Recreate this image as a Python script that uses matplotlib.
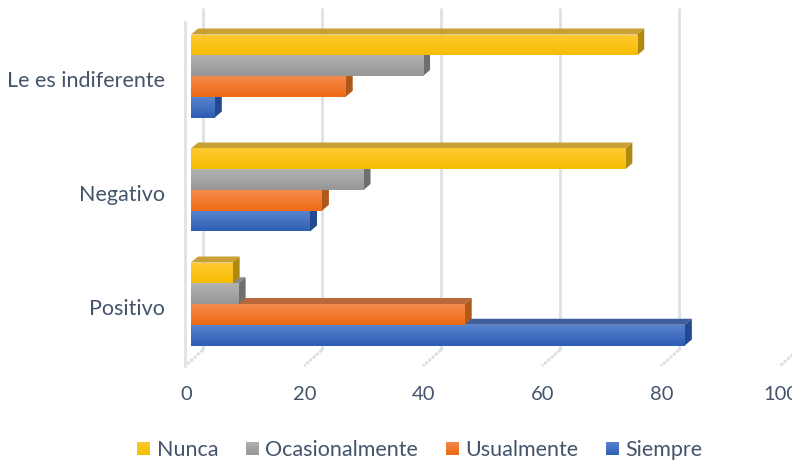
import numpy as np
import matplotlib
matplotlib.use("Agg")
import matplotlib.pyplot as plt
from matplotlib.patches import Patch
from matplotlib.colors import LinearSegmentedColormap

categories = ["Positivo", "Negativo", "Le es indiferente"]
series_names = ["Siempre", "Usualmente", "Ocasionalmente", "Nunca"]
siempre = [83, 20, 4]
usualmente = [46, 22, 26]
ocasionalmente = [8, 29, 39]
nunca = [7, 73, 75]
x_ticks = [0, 20, 40, 60, 80, 100]

series_values = [siempre, usualmente, ocasionalmente, nunca]
light = ["#5B84CF", "#F58A4B", "#B2B2B2", "#FFC933"]
dark = ["#2F5FB5", "#EE6A15", "#979797", "#F5BE00"]
top_c = ["#3F5F9C", "#B8683A", "#8A8A8A", "#C9A033"]
side_c = ["#234A8E", "#B0581A", "#6F6F6F", "#B08A10"]
text_c = "#44546A"

W, H = 792, 462
PX_X = 5.95
PX_Y = 114.0
BAR_H = 20.75 / PX_Y
DX = 7 / PX_X
DY = 6 / PX_Y

fig = plt.figure(figsize=(W / 100, H / 100), dpi=100)
ax = fig.add_axes([0, 0, 1, 1])
xlim = (-191 / PX_X, (W - 191) / PX_X)
ylim = ((304 - H) / PX_Y, 304 / PX_Y)
ax.axis("off")

y_low = (304 - 366) / PX_Y
y_floor = (304 - 350) / PX_Y
y_top_grid = (304 - 8) / PX_Y
y_top_wall = (304 - 22) / PX_Y

# Walls, gridlines and floor ticks
for v in x_ticks:
    xb = v + 2
    xf = v - 1
    if v < 100:
        ax.plot([xb, xb], [y_floor, y_top_grid], color="#DDE0E5", lw=2.0, zorder=1,
                solid_capstyle="butt")
    ax.plot([xb, xf], [y_floor, y_low], color="#DEDEDE", lw=2.0, zorder=1,
            linestyle=(0, (1.2, 0.4)))
ax.plot([-1, -1], [y_low, y_top_wall], color="#E0E2E6", lw=2.0, zorder=1)

# Bars, back to front, bottom series first
grad = np.linspace(0, 1, 32).reshape(-1, 1)
z = 2
for cat_i in range(len(categories)):
    for s_i, vals in enumerate(series_values):
        v = vals[cat_i]
        y0 = cat_i + (s_i - 2) * BAR_H
        y1 = y0 + BAR_H
        ax.fill([0, v, v + DX, DX], [y1, y1, y1 + DY, y1 + DY], color=top_c[s_i], lw=0, zorder=z)
        ax.fill([v, v + DX, v + DX, v], [y0, y0 + DY, y1 + DY, y1], color=side_c[s_i], lw=0, zorder=z)
        bar = ax.barh(y0, v, height=BAR_H, align="edge", color=dark[s_i], lw=0, zorder=z + 0.1)[0]
        cmap = LinearSegmentedColormap.from_list("g", [light[s_i], dark[s_i]])
        im = ax.imshow(grad, cmap=cmap, aspect="auto", extent=(0, v, y0, y1), origin="upper",
                       zorder=z + 0.2, interpolation="bilinear")
        im.set_clip_path(bar)
        z += 1

ax.set_xlim(*xlim)
ax.set_ylim(*ylim)

FONT = "Lato"
for i, c in enumerate(categories):
    ax.text(-26 / PX_X, i - 5 / PX_Y, c, ha="right", va="center", fontsize=15.5,
            color=text_c, family=FONT)
for v in x_ticks:
    ax.text(v - 5 / PX_X, (304 - 394) / PX_Y, str(v), ha="center", va="center", fontsize=14.5,
            color=text_c, family=FONT, clip_on=False)

order = [3, 2, 1, 0]
handles = [Patch(facecolor=dark[i], edgecolor="none", label=series_names[i]) for i in order]
leg = fig.legend(handles=handles, loc="center", bbox_to_anchor=(420 / W, 1 - 450 / H), ncols=4,
                 frameon=False, labelcolor=text_c, handlelength=0.56, handleheight=0.56,
                 handletextpad=0.33, columnspacing=1.3, prop={"family": FONT, "size": 15.5})

# Gradient on the legend keys
fig.canvas.draw()
renderer = fig.canvas.get_renderer()
for patch, i in zip(leg.get_patches(), order):
    bb = patch.get_window_extent(renderer).transformed(fig.transFigure.inverted())
    key_ax = fig.add_axes([bb.x0, bb.y0, bb.width, bb.height], zorder=10)
    key_ax.imshow(grad, cmap=LinearSegmentedColormap.from_list("k", [light[i], dark[i]]),
                  aspect="auto")
    key_ax.axis("off")

fig.savefig("out.png", dpi=100)
